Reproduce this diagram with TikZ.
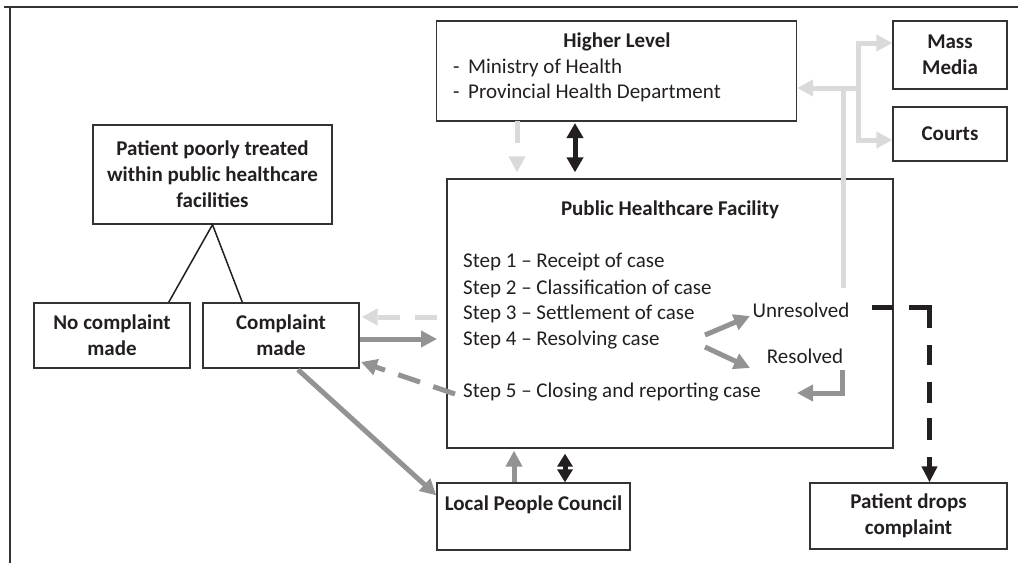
\documentclass[tikz,border=0pt]{standalone}
\usepackage{fontspec}
\setmainfont{Carlito}
\usetikzlibrary{arrows.meta,calc}
\definecolor{lgray}{HTML}{DADADA}
\definecolor{mgray}{HTML}{939393}
\definecolor{dk}{HTML}{231F20}
\definecolor{boxc}{HTML}{333333}
\begin{document}
\begin{tikzpicture}[x=1pt,y=-1pt,
  box/.style={draw=boxc,line width=1.3pt,inner sep=0pt,align=center,text=dk,
    font=\bfseries\fontsize{21}{26}\selectfont},
  txt/.style={inner sep=0pt,text=dk,font=\fontsize{21}{26}\selectfont},
  btxt/.style={inner sep=0pt,text=dk,font=\bfseries\fontsize{21}{26}\selectfont},
  gtip/.style={-{Triangle[length=16pt,width=16pt]}},
  garrow/.style={draw=mgray,line width=5pt,gtip},
  gdash/.style={garrow,dash pattern=on 23pt off 14pt},
  lline/.style={draw=lgray,line width=5pt},
  larrow/.style={lline,gtip},
  ldash/.style={larrow,dash pattern=on 22pt off 15pt},
  kdouble/.style={draw=dk,line width=5pt,{Triangle[length=15pt,width=16pt]}-{Triangle[length=15pt,width=16pt]}},
  kdash/.style={draw=dk,line width=5pt,-{Triangle[length=16pt,width=15pt]},
    dash pattern=on 21pt off 16pt on 41pt off 17pt on 20pt off 17pt on 21pt off 15pt on 22pt off 17pt on 30pt off 10pt},
  frame/.style={draw=boxc,line width=1.7pt}
]
\useasboundingbox (0,0) rectangle (1018,563);
% frame lines
\draw[frame] (4,7) -- (1018,7);
\draw[frame] (10,7) -- (10,563);

% Higher level
\node[box,minimum width=360pt,minimum height=100pt] (hl) at (616.5,71) {};
\node[btxt,anchor=base] (hlt) at (617,47) {Higher Level};
\node[txt,anchor=base west] (hl1) at (453,73) {\makebox[15pt][l]{-}Ministry of Health};
\node[txt,anchor=base west] (hl2) at (453,98) {\makebox[15pt][l]{-}Provincial Health Department};

% Mass media, courts
\node[box,minimum width=114pt,minimum height=68pt] (mm) at (950,55) {Mass\\Media};
\node[box,minimum width=114pt,minimum height=54pt] (ct) at (950,134) {Courts};

% Public healthcare facility
\node[box,minimum width=446pt,minimum height=269pt] (phf) at (670,313.5) {};
\node[btxt,anchor=base] (phft) at (670,215) {Public Healthcare Facility};
\node[txt,anchor=base west] (s1) at (463,267) {Step 1 – Receipt of case};
\node[txt,anchor=base west] (s2) at (463,294) {Step 2 – Classification of case};
\node[txt,anchor=base west] (s3) at (463,319) {Step 3 – Settlement of case};
\node[txt,anchor=base west] (s4) at (463,345) {Step 4 – Resolving case};
\node[txt,anchor=base west] (s5) at (463,397) {Step 5 – Closing and reporting case};
\node[txt,anchor=base] (unres) at (801,317) {Unresolved};
\node[txt,anchor=base] (res) at (805,363) {Resolved};

% left boxes
\node[box,minimum width=239pt,minimum height=99pt] (pp) at (212.5,174.5)
  {Patient poorly treated\\within public healthcare\\facilities};
\node[box,minimum width=156pt,minimum height=65pt] (ncm) at (112,335.5) {No complaint\\made};
\node[box,minimum width=156pt,minimum height=65pt] (cm) at (281,335.5) {Complaint\\made};

% bottom boxes
\node[box,minimum width=193pt,minimum height=67pt] (lpc) at (533.5,516.5) {};
\node[btxt,anchor=base] (lpct) at (533.5,510) {Local People Council};
\node[box,minimum width=197pt,minimum height=66pt] (pdc) at (908.5,516) {Patient drops\\complaint};

% tree lines
\draw[draw=dk,line width=1.5pt] ($(ncm.north east)+(-22,0)$) -- (pp.south) -- ($(cm.north west)+(40,0)$);

% light gray arrows to higher level / media / courts
\coordinate (u0) at (843,288);
\coordinate (j) at (843,88);
\coordinate (j2) at (858,88);
\coordinate (m1) at (858,43);
\coordinate (c1) at (858,140);
\draw[larrow] (u0) -- (j) -- (hl.east |- j);
\draw[lline] (j) -- (j2);
\draw[larrow] (j2) -- (m1) -- (mm.west |- m1);
\draw[larrow] (j2) -- (c1) -- (ct.west |- c1);

% higher level <-> facility
\coordinate (h1) at (517,121);
\coordinate (h2) at (575,121);
\draw[ldash,shorten >=6pt] (h1) -- (h1 |- phf.north);
\draw[kdouble,shorten <=2pt,shorten >=6pt] (h2) -- (h2 |- phf.north);

% complaint made <-> facility
\coordinate (a1) at (437,317);
\coordinate (a2) at (437,339);
\coordinate (a3) at (455,394);
\coordinate (a3t) at (361,362);
\draw[ldash,shorten >=2pt] (a1) -- (cm.east |- a1);
\draw[garrow] (cm.east |- a2) -- (a2);
\draw[gdash] (a3) -- (a3t);

% complaint made -> local people council
\draw[garrow] ($(cm.south)+(17,1)$) -- ($(lpc.north west)+(0,13)$);

% local people council <-> facility
\coordinate (l1) at ($(lpc.north)+(-19.5,0)$);
\coordinate (l2) at ($(lpc.north)+(31.5,0)$);
\draw[garrow,shorten >=2pt] (l1) -- (l1 |- phf.south);
\draw[draw=dk,line width=5pt,{Triangle[length=13pt,width=15pt]}-{Triangle[length=13pt,width=15pt]},shorten >=5pt] (l2) -- (l2 |- phf.south);

% step 4 outcomes
\coordinate (s4a) at (705,335);
\coordinate (s4at) at (750,316);
\coordinate (s4b) at (705,347);
\coordinate (s4bt) at (750,368);
\draw[garrow] (s4a) -- (s4at);
\draw[garrow] (s4b) -- (s4bt);
\coordinate (r0) at (842,370);
\coordinate (r1) at (797,393);
\draw[garrow] (r0) |- (r1);

% unresolved -> patient drops complaint
\coordinate (d0) at (872,307.5);
\coordinate (d1) at (929.5,307.5);
\draw[kdash] (d0) -- (d1) -- (d1 |- pdc.north);
\end{tikzpicture}
\end{document}
